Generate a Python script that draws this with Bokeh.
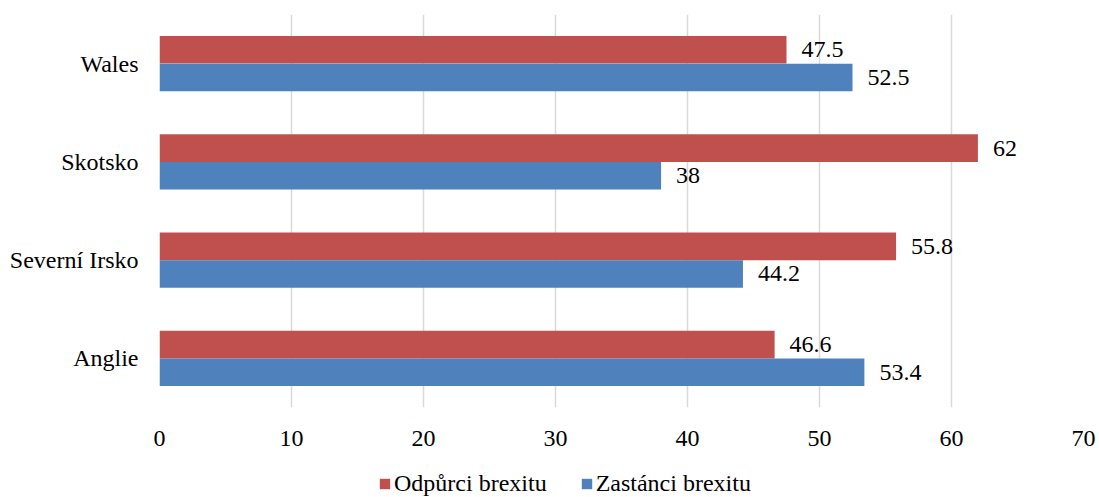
from bokeh.plotting import figure
from bokeh.layouts import column
from bokeh.models import ColumnDataSource, Range1d, FactorRange, Legend, LegendItem, FixedTicker
from bokeh.transform import dodge
from bokeh.core.properties import value
from bokeh.embed import file_html
from bokeh.resources import INLINE

regions = ["Anglie", "Severní Irsko", "Skotsko", "Wales"]
odpurci = [46.6, 55.8, 62.0, 47.5]
zastanci = [53.4, 44.2, 38.0, 52.5]
odpurci_labels = ["46.6", "55.8", "62", "47.5"]
zastanci_labels = ["53.4", "44.2", "38", "52.5"]
series_names = ["Odpůrci brexitu", "Zastánci brexitu"]
x_ticks = [0, 10, 20, 30, 40, 50, 60, 70]

RED = "#C0504D"
BLUE = "#4F81BD"
FONT = "Liberation Serif"
FS = "24px"

src = ColumnDataSource(dict(region=regions, odp=odpurci, zas=zastanci,
                            odp_l=odpurci_labels, zas_l=zastanci_labels))

p = figure(width=1099, height=457, output_backend="svg", toolbar_location=None,
           y_range=FactorRange(*regions), x_range=Range1d(0, 70),
           min_border_left=159, min_border_right=16, min_border_top=14, min_border_bottom=50)
p.outline_line_color = None
p.background_fill_color = "white"
p.border_fill_color = "white"

p.hbar(y=dodge("region", 0.14, range=p.y_range), right="odp", left=0, height=0.28,
       source=src, fill_color=RED, line_color=None)
p.hbar(y=dodge("region", -0.14, range=p.y_range), right="zas", left=0, height=0.28,
       source=src, fill_color=BLUE, line_color=None)

p.text(x="odp", y=dodge("region", 0.14, range=p.y_range), text="odp_l", source=src,
       x_offset=15, text_align="left", text_baseline="middle",
       text_font=value(FONT), text_font_size=FS, text_color="#000000")
p.text(x="zas", y=dodge("region", -0.14, range=p.y_range), text="zas_l", source=src,
       x_offset=15, text_align="left", text_baseline="middle",
       text_font=value(FONT), text_font_size=FS, text_color="#000000")

p.xaxis.ticker = FixedTicker(ticks=x_ticks)
p.xaxis.axis_line_color = None
p.xaxis.major_tick_line_color = None
p.xaxis.minor_tick_line_color = None
p.xaxis.major_label_text_font = FONT
p.xaxis.major_label_text_font_size = FS
p.xaxis.major_label_text_color = "#000000"
p.xaxis.major_label_standoff = 17
p.yaxis.axis_line_color = None
p.yaxis.major_tick_line_color = None
p.yaxis.minor_tick_line_color = None
p.yaxis.major_label_text_font = FONT
p.yaxis.major_label_text_font_size = FS
p.yaxis.major_label_text_color = "#000000"
p.yaxis.major_label_standoff = 15

p.xgrid.grid_line_color = "#D9D9D9"
p.xgrid.grid_line_width = 1.5
p.ygrid.grid_line_color = None

# legend strip below the chart
lf = figure(width=1099, height=40, output_backend="svg", toolbar_location=None,
            x_range=Range1d(0, 1), y_range=Range1d(0, 1),
            x_axis_type=None, y_axis_type=None,
            min_border_left=159, min_border_right=16, min_border_top=0, min_border_bottom=0)
lf.outline_line_color = None
lf.xgrid.visible = False
lf.ygrid.visible = False
# zero-size quads: they only give the legend its swatches
swatch = ColumnDataSource(dict(left=[0], right=[0], bottom=[0], top=[0]))
lr1 = lf.quad(left="left", right="right", bottom="bottom", top="top", source=swatch,
              fill_color=RED, line_color=None)
lr2 = lf.quad(left="left", right="right", bottom="bottom", top="top", source=swatch,
              fill_color=BLUE, line_color=None)
legend = Legend(items=[LegendItem(label=series_names[0], renderers=[lr1]),
                       LegendItem(label=series_names[1], renderers=[lr2])],
                orientation="horizontal", location=(219, 0),
                label_text_font=FONT, label_text_font_size=FS, label_text_color="#000000",
                glyph_width=13, glyph_height=13, label_height=26, label_standoff=3, spacing=33,
                padding=0, margin=0, border_line_color=None, background_fill_alpha=0)
lf.add_layout(legend, "center")

layout = column(p, lf, spacing=0)
open("out.html", "w").write(file_html(layout, INLINE))
